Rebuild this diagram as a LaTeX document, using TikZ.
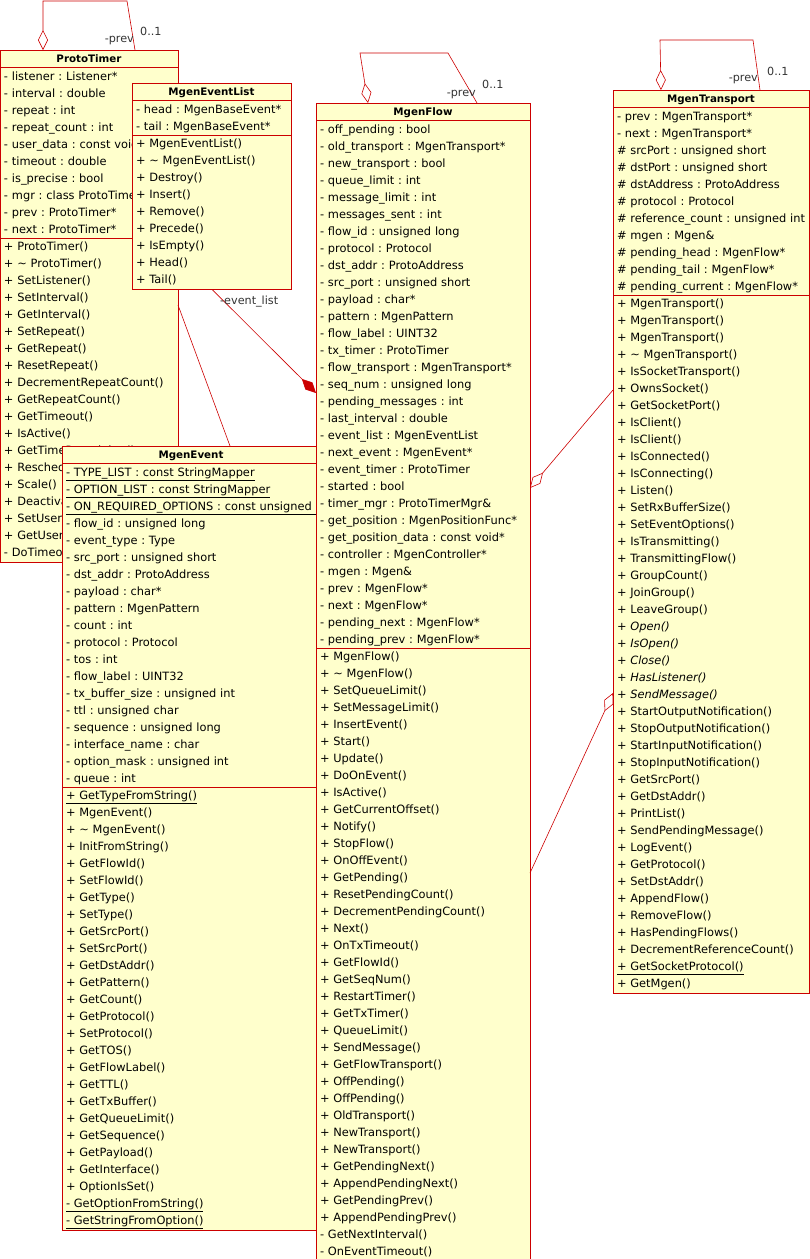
\documentclass[tikz,border=0pt]{standalone}
\usepackage{fontspec}
\setmainfont{DejaVu Sans}
\usetikzlibrary{shapes.multipart,arrows.meta,calc}
\definecolor{umlfill}{RGB}{255,255,204}
\definecolor{umlline}{RGB}{204,0,0}
\definecolor{lbltext}{RGB}{51,51,51}
\frenchspacing
\newcommand\umlrow[1]{\mbox{\strut#1}\par}
\newcommand\umltitle[1]{\centering\fontsize{10.3}{17}\selectfont\bfseries\strut#1\par}
\tikzset{
	classbox/.style={rectangle split,rectangle split parts=3,draw=umlline,fill=umlfill,line width=0.8pt,text width=#1,inner xsep=4pt,inner ysep=0pt,outer sep=0pt,align=left,anchor=north west,font=\fontsize{11.4}{17}\selectfont},
	assoc/.style={draw=umlline,line width=0.6pt},
	aggr/.style={assoc,{Diamond[open,length=20pt,width=10pt]}-},
	comp/.style={assoc,{Diamond[length=20pt,width=10pt]}-},
	rolelbl/.style={text=lbltext,font=\fontsize{11.2}{13}\selectfont,inner sep=0pt}
}
\begin{document}
\begin{tikzpicture}[x=1pt,y=-1pt]
	\useasboundingbox(0,0)rectangle(810,1259);
	% ProtoTimer
	\node[classbox=170pt](timer)at(0,50){\umltitle{ProtoTimer}
		\nodepart{two}
		\umlrow{- listener : Listener*}
		\umlrow{- interval : double}
		\umlrow{- repeat : int}
		\umlrow{- repeat\_count : int}
		\umlrow{- user\_data : const void*}
		\umlrow{- timeout : double}
		\umlrow{- is\_precise : bool}
		\umlrow{- mgr : class ProtoTimerMgr*}
		\umlrow{- prev : ProtoTimer*}
		\umlrow{- next : ProtoTimer*}
		\nodepart{three}
		\umlrow{+ ProtoTimer()}
		\umlrow{+ \textasciitilde{} ProtoTimer()}
		\umlrow{+ SetListener()}
		\umlrow{+ SetInterval()}
		\umlrow{+ GetInterval()}
		\umlrow{+ SetRepeat()}
		\umlrow{+ GetRepeat()}
		\umlrow{+ ResetRepeat()}
		\umlrow{+ DecrementRepeatCount()}
		\umlrow{+ GetRepeatCount()}
		\umlrow{+ GetTimeout()}
		\umlrow{+ IsActive()}
		\umlrow{+ GetTimeRemaining()}
		\umlrow{+ Reschedule()}
		\umlrow{+ Scale()}
		\umlrow{+ Deactivate()}
		\umlrow{+ SetUserData()}
		\umlrow{+ GetUserData()}
		\umlrow{- DoTimeout()}};
	% MgenEventList
	\node[classbox=151pt](evlist)at(132,83){\umltitle{MgenEventList}
		\nodepart{two}
		\umlrow{- head : MgenBaseEvent*}
		\umlrow{- tail : MgenBaseEvent*}
		\nodepart{three}
		\umlrow{+ MgenEventList()}
		\umlrow{+ \textasciitilde{} MgenEventList()}
		\umlrow{+ Destroy()}
		\umlrow{+ Insert()}
		\umlrow{+ Remove()}
		\umlrow{+ Precede()}
		\umlrow{+ IsEmpty()}
		\umlrow{+ Head()}
		\umlrow{+ Tail()}};
	% MgenEvent
	\node[classbox=250pt](event)at(62,446){\umltitle{MgenEvent}
		\nodepart{two}
		\umlrow{\underline{- TYPE\_LIST : const StringMapper}}
		\umlrow{\underline{- OPTION\_LIST : const StringMapper}}
		\umlrow{\underline{- ON\_REQUIRED\_OPTIONS : const unsigned int}}
		\umlrow{- flow\_id : unsigned long}
		\umlrow{- event\_type : Type}
		\umlrow{- src\_port : unsigned short}
		\umlrow{- dst\_addr : ProtoAddress}
		\umlrow{- payload : char*}
		\umlrow{- pattern : MgenPattern}
		\umlrow{- count : int}
		\umlrow{- protocol : Protocol}
		\umlrow{- tos : int}
		\umlrow{- flow\_label : UINT32}
		\umlrow{- tx\_buffer\_size : unsigned int}
		\umlrow{- ttl : unsigned char}
		\umlrow{- sequence : unsigned long}
		\umlrow{- interface\_name : char}
		\umlrow{- option\_mask : unsigned int}
		\umlrow{- queue : int}
		\nodepart{three}
		\umlrow{\underline{+ GetTypeFromString()}}
		\umlrow{+ MgenEvent()}
		\umlrow{+ \textasciitilde{} MgenEvent()}
		\umlrow{+ InitFromString()}
		\umlrow{+ GetFlowId()}
		\umlrow{+ SetFlowId()}
		\umlrow{+ GetType()}
		\umlrow{+ SetType()}
		\umlrow{+ GetSrcPort()}
		\umlrow{+ SetSrcPort()}
		\umlrow{+ GetDstAddr()}
		\umlrow{+ GetPattern()}
		\umlrow{+ GetCount()}
		\umlrow{+ GetProtocol()}
		\umlrow{+ SetProtocol()}
		\umlrow{+ GetTOS()}
		\umlrow{+ GetFlowLabel()}
		\umlrow{+ GetTTL()}
		\umlrow{+ GetTxBuffer()}
		\umlrow{+ GetQueueLimit()}
		\umlrow{+ GetSequence()}
		\umlrow{+ GetPayload()}
		\umlrow{+ GetInterface()}
		\umlrow{+ OptionIsSet()}
		\umlrow{\underline{- GetOptionFromString()}}
		\umlrow{\underline{- GetStringFromOption()}}};
	% MgenFlow
	\node[classbox=206pt](flow)at(316,103){\umltitle{MgenFlow}
		\nodepart{two}
		\umlrow{- off\_pending : bool}
		\umlrow{- old\_transport : MgenTransport*}
		\umlrow{- new\_transport : bool}
		\umlrow{- queue\_limit : int}
		\umlrow{- message\_limit : int}
		\umlrow{- messages\_sent : int}
		\umlrow{- flow\_id : unsigned long}
		\umlrow{- protocol : Protocol}
		\umlrow{- dst\_addr : ProtoAddress}
		\umlrow{- src\_port : unsigned short}
		\umlrow{- payload : char*}
		\umlrow{- pattern : MgenPattern}
		\umlrow{- flow\_label : UINT32}
		\umlrow{- tx\_timer : ProtoTimer}
		\umlrow{- flow\_transport : MgenTransport*}
		\umlrow{- seq\_num : unsigned long}
		\umlrow{- pending\_messages : int}
		\umlrow{- last\_interval : double}
		\umlrow{- event\_list : MgenEventList}
		\umlrow{- next\_event : MgenEvent*}
		\umlrow{- event\_timer : ProtoTimer}
		\umlrow{- started : bool}
		\umlrow{- timer\_mgr : ProtoTimerMgr\&}
		\umlrow{- get\_position : MgenPositionFunc*}
		\umlrow{- get\_position\_data : const void*}
		\umlrow{- controller : MgenController*}
		\umlrow{- mgen : Mgen\&}
		\umlrow{- prev : MgenFlow*}
		\umlrow{- next : MgenFlow*}
		\umlrow{- pending\_next : MgenFlow*}
		\umlrow{- pending\_prev : MgenFlow*}
		\nodepart{three}
		\umlrow{+ MgenFlow()}
		\umlrow{+ \textasciitilde{} MgenFlow()}
		\umlrow{+ SetQueueLimit()}
		\umlrow{+ SetMessageLimit()}
		\umlrow{+ InsertEvent()}
		\umlrow{+ Start()}
		\umlrow{+ Update()}
		\umlrow{+ DoOnEvent()}
		\umlrow{+ IsActive()}
		\umlrow{+ GetCurrentOffset()}
		\umlrow{+ Notify()}
		\umlrow{+ StopFlow()}
		\umlrow{+ OnOffEvent()}
		\umlrow{+ GetPending()}
		\umlrow{+ ResetPendingCount()}
		\umlrow{+ DecrementPendingCount()}
		\umlrow{+ Next()}
		\umlrow{+ OnTxTimeout()}
		\umlrow{+ GetFlowId()}
		\umlrow{+ GetSeqNum()}
		\umlrow{+ RestartTimer()}
		\umlrow{+ GetTxTimer()}
		\umlrow{+ QueueLimit()}
		\umlrow{+ SendMessage()}
		\umlrow{+ GetFlowTransport()}
		\umlrow{+ OffPending()}
		\umlrow{+ OffPending()}
		\umlrow{+ OldTransport()}
		\umlrow{+ NewTransport()}
		\umlrow{+ NewTransport()}
		\umlrow{+ GetPendingNext()}
		\umlrow{+ AppendPendingNext()}
		\umlrow{+ GetPendingPrev()}
		\umlrow{+ AppendPendingPrev()}
		\umlrow{- GetNextInterval()}
		\umlrow{- OnEventTimeout()}};
	% MgenTransport
	\node[classbox=188pt](transport)at(613,90){\umltitle{MgenTransport}
		\nodepart{two}
		\umlrow{- prev : MgenTransport*}
		\umlrow{- next : MgenTransport*}
		\umlrow{\# srcPort : unsigned short}
		\umlrow{\# dstPort : unsigned short}
		\umlrow{\# dstAddress : ProtoAddress}
		\umlrow{\# protocol : Protocol}
		\umlrow{\# reference\_count : unsigned int}
		\umlrow{\# mgen : Mgen\&}
		\umlrow{\# pending\_head : MgenFlow*}
		\umlrow{\# pending\_tail : MgenFlow*}
		\umlrow{\# pending\_current : MgenFlow*}
		\nodepart{three}
		\umlrow{+ MgenTransport()}
		\umlrow{+ MgenTransport()}
		\umlrow{+ MgenTransport()}
		\umlrow{+ \textasciitilde{} MgenTransport()}
		\umlrow{+ IsSocketTransport()}
		\umlrow{+ OwnsSocket()}
		\umlrow{+ GetSocketPort()}
		\umlrow{+ IsClient()}
		\umlrow{+ IsClient()}
		\umlrow{+ IsConnected()}
		\umlrow{+ IsConnecting()}
		\umlrow{+ Listen()}
		\umlrow{+ SetRxBufferSize()}
		\umlrow{+ SetEventOptions()}
		\umlrow{+ IsTransmitting()}
		\umlrow{+ TransmittingFlow()}
		\umlrow{+ GroupCount()}
		\umlrow{+ JoinGroup()}
		\umlrow{+ LeaveGroup()}
		\umlrow{\itshape + Open()}
		\umlrow{\itshape + IsOpen()}
		\umlrow{\itshape + Close()}
		\umlrow{\itshape + HasListener()}
		\umlrow{\itshape + SendMessage()}
		\umlrow{+ StartOutputNotification()}
		\umlrow{+ StopOutputNotification()}
		\umlrow{+ StartInputNotification()}
		\umlrow{+ StopInputNotification()}
		\umlrow{+ GetSrcPort()}
		\umlrow{+ GetDstAddr()}
		\umlrow{+ PrintList()}
		\umlrow{+ SendPendingMessage()}
		\umlrow{+ LogEvent()}
		\umlrow{+ GetProtocol()}
		\umlrow{+ SetDstAddr()}
		\umlrow{+ AppendFlow()}
		\umlrow{+ RemoveFlow()}
		\umlrow{+ HasPendingFlows()}
		\umlrow{+ DecrementReferenceCount()}
		\umlrow{\underline{+ GetSocketProtocol()}}
		\umlrow{+ GetMgen()}};
	% self associations
	\draw[aggr]($(timer.north west)+(43,0)$)--++(0,-49)--++(84,0)--($(timer.north west)+(135,0)$);
	\node[rolelbl,anchor=base east](timerprev)at($(timer.north west)+(134,-8)$){-prev};
	\node[rolelbl,anchor=base west](timermult)at($(timer.north west)+(140,-15)$){0..1};
	\draw[aggr]($(flow.north west)+(52,0)$)--++(-8,-50)--++(88,0)--($(flow.north west)+(161,0)$);
	\node[rolelbl,anchor=base east](flowprev)at($(flow.north west)+(160,-7)$){-prev};
	\node[rolelbl,anchor=base west](flowmult)at($(flow.north west)+(166,-15)$){0..1};
	\draw[aggr]($(transport.north west)+(48,0)$)--++(-1,-50)--++(93,0)--($(transport.north west)+(147,0)$);
	\node[rolelbl,anchor=base east](transportprev)at($(transport.north west)+(145,-9)$){-prev};
	\node[rolelbl,anchor=base west](transportmult)at($(transport.north west)+(154,-15)$){0..1};
	% other associations
	\draw[comp]($(flow.north west)+(0,290)$)--($(evlist.south west)+(80,0)$);
	\node[rolelbl,anchor=base west](evlistrole)at($(evlist.south west)+(88,15)$){-event\_list};
	\draw[assoc]($(timer.north east)+(0,255)$)--($(event.north west)+(168,0)$);
	\draw[aggr]($(flow.north east)+(0,385)$)--($(transport.north west)+(0,300)$);
	\draw[aggr]($(transport.north west)+(0,603)$)--($(flow.north east)+(0,770)$);
\end{tikzpicture}
\end{document}
